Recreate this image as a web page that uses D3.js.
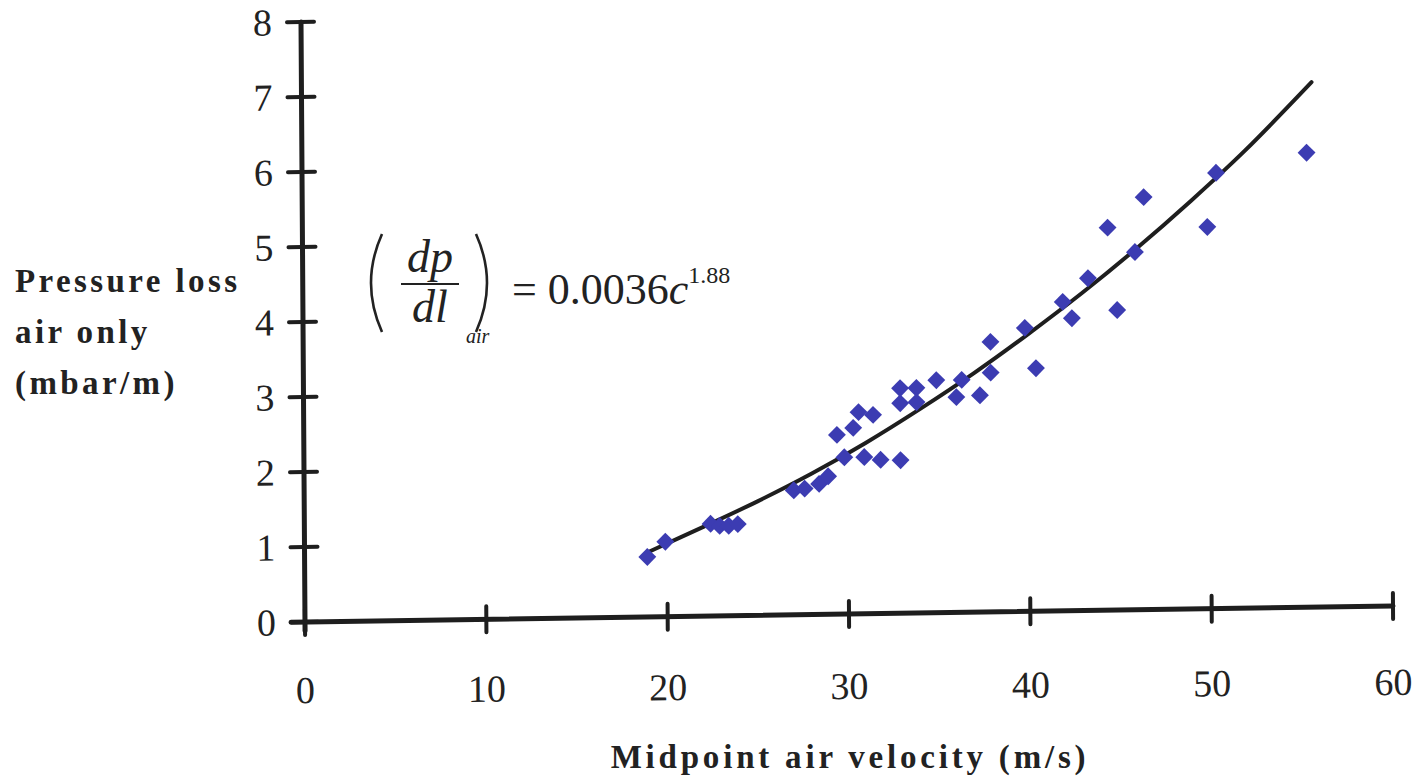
<!DOCTYPE html>
<html>
<head>
<meta charset="utf-8">
<script src="https://cdn.jsdelivr.net/npm/d3@7/dist/d3.min.js"></script>
<style>
  html, body { margin: 0; padding: 0; background: #ffffff; }
  svg { display: block; }
</style>
</head>
<body>
<svg id="chart" width="1424" height="779"></svg>
<script>
// ---- data ----
const xTicks = [0, 10, 20, 30, 40, 50, 60];
const yTicks = [0, 1, 2, 3, 4, 5, 6, 7, 8];

const velocity = [18.9, 19.9, 22.4, 22.9, 23.4, 23.9,
  27.0, 27.6, 28.4, 28.9,
  29.4, 29.8, 30.3, 30.6, 30.9, 31.4, 31.8, 32.9,
  32.9, 33.8, 32.9, 33.8,
  34.9, 36.0, 36.3, 37.3, 37.9, 37.9,
  39.8, 40.4, 41.9, 42.4, 43.3, 44.4, 44.9, 45.9, 46.4, 49.9, 50.4, 55.4];
const pressure = [0.80, 1.00, 1.23, 1.20, 1.20, 1.22,
  1.66, 1.68, 1.74, 1.84,
  2.39, 2.09, 2.48, 2.69, 2.09, 2.65, 2.05, 2.04,
  3.00, 3.00, 2.80, 2.81,
  3.10, 2.87, 3.10, 2.89, 3.60, 3.19,
  3.78, 3.24, 4.12, 3.90, 4.43, 5.10, 4.00, 4.77, 5.50, 5.09, 5.81, 6.06];

// fitted curve as drawn in the picture
const fitVelocity = [18.9, 22, 25, 28, 31, 34, 37, 40, 43, 46, 49, 52, 55.7];
const fitPressure = [0.86, 1.19, 1.52, 1.88, 2.28, 2.72, 3.19, 3.70, 4.24, 4.82, 5.44, 6.10, 7.00];

const xTitle = "Midpoint air velocity (m/s)";
const yTitleLines = ["Pressure loss", "air only", "(mbar/m)"];

// ---- drawing ----
const svg = d3.select("#chart");
const ink = "#1e1e1e";
const serif = "'Liberation Serif', 'Times New Roman', serif";

const W = 1088, H = 600;
const x = d3.scaleLinear().domain([0, 60]).range([0, W]);
const y = d3.scaleLinear().domain([0, 8]).range([0, -H]);

// the scanned chart is slightly sheared: apply the same affine frame
const g = svg.append("g")
  .attr("transform", `matrix(1, ${-16 / W}, ${4 / H}, 1, 305, 622)`);

// axes
g.append("line").attr("x1", -14).attr("x2", x(60)).attr("y1", 0).attr("y2", 0)
  .attr("stroke", ink).attr("stroke-width", 5).attr("stroke-linecap", "round");
g.append("line").attr("x1", 0).attr("x2", 0).attr("y1", 9).attr("y2", y(8))
  .attr("stroke", ink).attr("stroke-width", 5).attr("stroke-linecap", "round");

// x ticks
g.selectAll(".xt").data(xTicks).join("line")
  .attr("x1", d => x(d)).attr("x2", d => x(d))
  .attr("y1", -13).attr("y2", 13)
  .attr("stroke", ink).attr("stroke-width", 4).attr("stroke-linecap", "round");
g.selectAll(".xl").data(xTicks).join("text")
  .attr("x", d => x(d)).attr("y", d => 81 + x(d) * 8 / W)
  .attr("text-anchor", "middle")
  .attr("font-family", serif).attr("font-size", 38).attr("fill", "#222")
  .text(d => d);

// y ticks
g.selectAll(".yt").data(yTicks).join("line")
  .attr("x1", -14).attr("x2", 13)
  .attr("y1", d => y(d)).attr("y2", d => y(d))
  .attr("stroke", ink).attr("stroke-width", 4).attr("stroke-linecap", "round");
g.selectAll(".yl").data(yTicks).join("text")
  .attr("x", -29).attr("y", d => y(d) + 13)
  .attr("text-anchor", "end")
  .attr("font-family", serif).attr("font-size", 38).attr("fill", "#222")
  .text(d => d);

// fitted curve
const fit = fitVelocity.map((v, i) => [v, fitPressure[i]]);
g.append("path").datum(fit)
  .attr("d", d3.line().x(d => x(d[0])).y(d => y(d[1])).curve(d3.curveCatmullRom))
  .attr("fill", "none").attr("stroke", ink).attr("stroke-width", 4)
  .attr("stroke-linecap", "round");

// data points (diamonds)
const pts = velocity.map((v, i) => [v, pressure[i]]);
const sym = d3.symbol().type(d3.symbolSquare).size(160);
g.selectAll(".pt").data(pts).join("path")
  .attr("d", sym)
  .attr("transform", d => `translate(${x(d[0])},${y(d[1])}) rotate(45)`)
  .attr("fill", "#3c3cb2");

// axis titles
svg.append("text").attr("x", 850).attr("y", 768)
  .attr("text-anchor", "middle")
  .attr("font-family", serif).attr("font-weight", "bold")
  .attr("font-size", 33).attr("letter-spacing", 3.8).attr("fill", "#222")
  .text(xTitle);

svg.append("g").selectAll("text").data(yTitleLines).join("text")
  .attr("x", 15).attr("y", (d, i) => 292 + i * 51)
  .attr("font-family", serif).attr("font-weight", "bold")
  .attr("font-size", 33).attr("letter-spacing", 3.4).attr("fill", "#222")
  .text(d => d);

// equation annotation
const eq = svg.append("g").attr("fill", "#222").attr("font-family", serif);
eq.append("path")
  .attr("d", "M382,234 Q360,283 382,332")
  .attr("fill", "none").attr("stroke", "#222").attr("stroke-width", 2.6);
eq.append("path")
  .attr("d", "M476,234 Q498,283 476,332")
  .attr("fill", "none").attr("stroke", "#222").attr("stroke-width", 2.6);
eq.append("text").attr("x", 430).attr("y", 272).attr("text-anchor", "middle")
  .attr("font-style", "italic").attr("font-size", 46).text("dp");
eq.append("line").attr("x1", 401).attr("x2", 459).attr("y1", 284).attr("y2", 284)
  .attr("stroke", "#222").attr("stroke-width", 2);
eq.append("text").attr("x", 430).attr("y", 322).attr("text-anchor", "middle")
  .attr("font-style", "italic").attr("font-size", 46).text("dl");
eq.append("text").attr("x", 466).attr("y", 343)
  .attr("font-style", "italic").attr("font-size", 20).text("air");
const t = eq.append("text").attr("x", 512).attr("y", 304).attr("font-size", 44);
t.append("tspan").text("= 0.0036");
t.append("tspan").attr("font-style", "italic").text("c");
t.append("tspan").attr("font-size", 24).attr("dy", -21).text("1.88");
</script>
</body>
</html>
